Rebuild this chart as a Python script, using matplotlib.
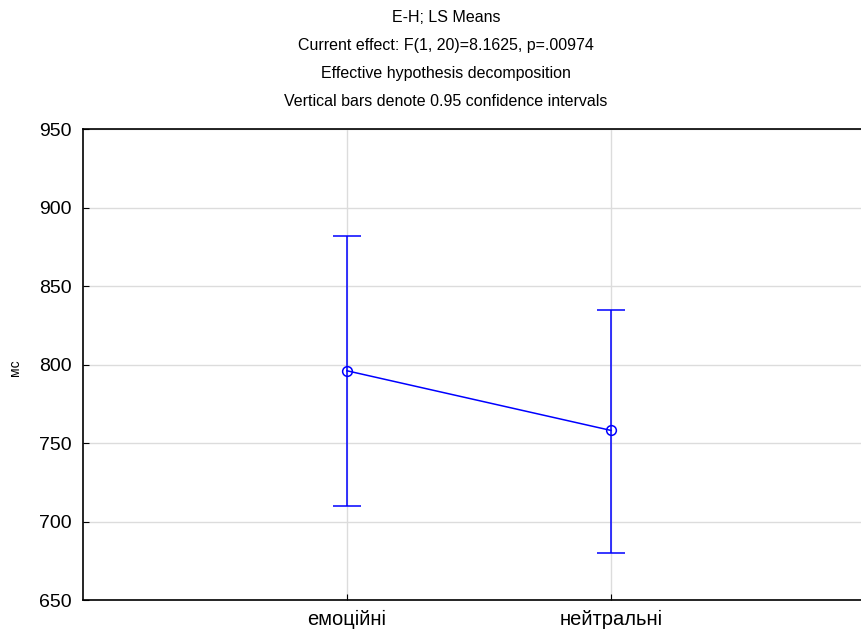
import matplotlib
matplotlib.use('Agg')
import matplotlib.pyplot as plt

# LS means with 0.95 confidence intervals
categories = ['емоційні', 'нейтральні']
means = [796, 758]
ci_low = [710, 680]
ci_high = [882, 835]
title_lines = ['E-H; LS Means',
               'Current effect: F(1, 20)=8.1625, p=.00974',
               'Effective hypothesis decomposition',
               'Vertical bars denote 0.95 confidence intervals']
yticks = [650, 700, 750, 800, 850, 900, 950]

plt.rcParams['font.family'] = ['Liberation Sans', 'DejaVu Sans']

W, H = 862, 630
fig = plt.figure(figsize=(W / 100, H / 100), dpi=100)

# axes runs off the right edge, as in the reference
left, top, bottom, width = 83, 129, 600, 792
ax = fig.add_axes([left / W, 1 - bottom / H, width / W, (bottom - top) / H])

x = [1, 2]
err = [[m - lo for m, lo in zip(means, ci_low)],
       [hi - m for m, hi in zip(means, ci_high)]]
ax.errorbar(x, means, yerr=err, color='#0000ff', lw=1.1, elinewidth=1.1,
            capsize=10, capthick=1.1, marker='o', markersize=7,
            markerfacecolor='none', markeredgecolor='#0000ff', markeredgewidth=1.1,
            zorder=3)

ax.set_xlim(0, 3)
ax.set_ylim(650, 950)
ax.set_xticks(x)
ax.set_xticklabels(categories, fontsize=14.5)
ax.set_yticks(yticks)
ax.tick_params(axis='y', labelsize=14, direction='in', length=4, pad=8)
ax.tick_params(axis='x', direction='in', length=4, pad=7)
ax.grid(True, color='#dcdcdc', lw=1, zorder=0)
ax.set_axisbelow(True)
ax.spines['right'].set_visible(False)
for s in ['top', 'left', 'bottom']:
    ax.spines[s].set_linewidth(1.2)

fig.text(15 / W, 1 - 368 / H, 'мс', rotation=90, ha='center', va='center', fontsize=10)

for i, line in enumerate(title_lines):
    fig.text(446 / W, 1 - (18 + 27.7 * i) / H, line, ha='center', va='center', fontsize=11.5)

fig.savefig('out.png', dpi=100)
